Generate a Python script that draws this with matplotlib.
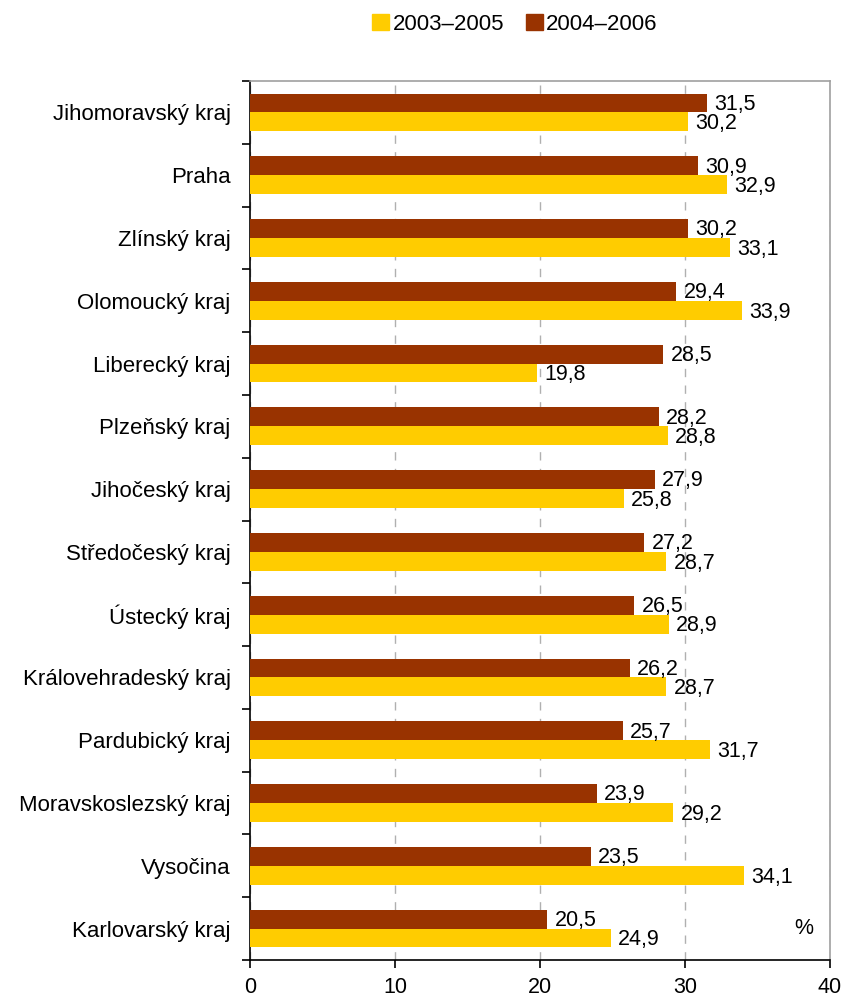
import numpy as np
import matplotlib; matplotlib.use("Agg"); import matplotlib.pyplot as plt
from matplotlib.patches import Patch

plt.rcParams['font.family'] = ['Liberation Sans', 'DejaVu Sans']

regions = ["Jihomoravský kraj", "Praha", "Zlínský kraj", "Olomoucký kraj", "Liberecký kraj",
           "Plzeňský kraj", "Jihočeský kraj", "Středočeský kraj", "Ústecký kraj",
           "Královehradeský kraj", "Pardubický kraj", "Moravskoslezský kraj", "Vysočina",
           "Karlovarský kraj"]
v0305 = [30.2, 32.9, 33.1, 33.9, 19.8, 28.8, 25.8, 28.7, 28.9, 28.7, 31.7, 29.2, 34.1, 24.9]
v0406 = [31.5, 30.9, 30.2, 29.4, 28.5, 28.2, 27.9, 27.2, 26.5, 26.2, 25.7, 23.9, 23.5, 20.5]
YEL = "#FFCC00"; BRN = "#993300"
FS = 15.5

fig = plt.figure(figsize=(8.46, 10.02), dpi=100)
ax = fig.add_axes([250/846, 1-960/1002, 580/846, 879/1002])

n = len(regions); pos = np.arange(n); bh = 0.3
ax.barh(pos - bh/2, v0406, height=bh, color=BRN, zorder=3)
ax.barh(pos + bh/2, v0305, height=bh, color=YEL, zorder=3)
for p, a, b in zip(pos, v0406, v0305):
    ax.text(a + 0.5, p - bh/2 + 0.02, f"{a:.1f}".replace(".", ","), va="center", ha="left", fontsize=FS, zorder=4)
    ax.text(b + 0.5, p + bh/2 + 0.03, f"{b:.1f}".replace(".", ","), va="center", ha="left", fontsize=FS, zorder=4)

ax.set_ylim(n - 0.5, -0.5)
ax.set_xlim(0, 40)
ax.set_xticks([0, 10, 20, 30, 40])
ax.set_xticklabels(["0", "10", "20", "30", "40"], fontsize=15.5)
ax.set_yticks(pos)
ax.set_yticklabels(regions, fontsize=16)
ax.tick_params(axis="y", length=0, pad=14)
ax.set_yticks(np.arange(-0.5, n, 1), minor=True)
ax.tick_params(axis="y", which="minor", length=6, width=1.2, direction="out")
ax.tick_params(axis="x", length=6, width=1.2, direction="out", pad=6)
ax.xaxis.grid(True, color="#b0b0b0", ls=(0, (6, 6)), lw=1, zorder=0)
for s in ["left", "bottom"]:
    ax.spines[s].set_color("black"); ax.spines[s].set_linewidth(1.2)
for s in ["top", "right"]:
    ax.spines[s].set_color("#a0a0a0"); ax.spines[s].set_linewidth(1.2)
ax.text(38.2, 13, "%", fontsize=FS, ha="center", va="center")

fig.legend(handles=[Patch(color=YEL, label="2003–2005"), Patch(color=BRN, label="2004–2006")],
           loc="center", bbox_to_anchor=(515/846, 1-24/1002), ncol=2, frameon=False,
           fontsize=16, handlelength=0.75, handleheight=0.75, handletextpad=0.15, columnspacing=1.0)
plt.savefig("out.png", dpi=100)
